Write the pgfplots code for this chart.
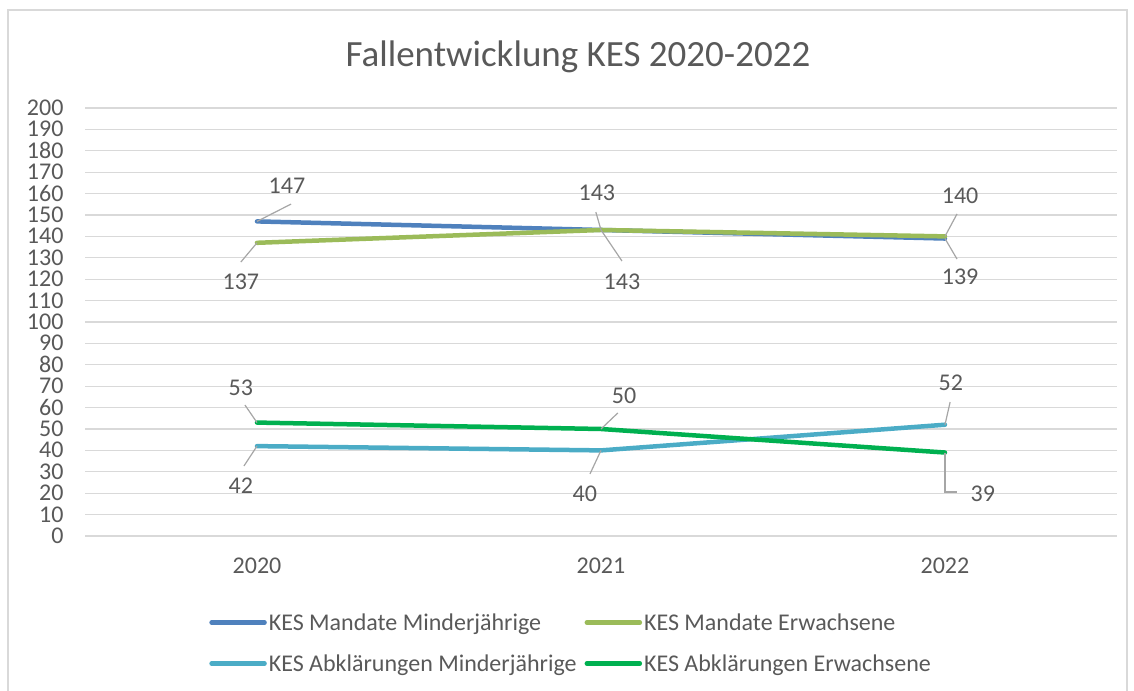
\documentclass[border=0pt]{standalone}
\usepackage{pgfplots}
\pgfplotsset{compat=1.18}
\usepackage{fontspec}
\setmainfont{Carlito}
\definecolor{cblue}{HTML}{4F81BD}
\definecolor{cgreen}{HTML}{9BBB59}
\definecolor{clblue}{HTML}{4BACC6}
\definecolor{cdgreen}{HTML}{00B050}
\definecolor{gridc}{HTML}{D9D9D9}
\definecolor{txt}{HTML}{595959}
\definecolor{leadc}{HTML}{A6A6A6}
\newcommand{\lab}{\fontsize{24bp}{28bp}\selectfont}
\begin{document}
\begin{tikzpicture}[x=1bp,y=1bp]
\path[use as bounding box] (0,0) rectangle (1134,691);
\draw[gridc, line width=1.3bp] (8,0) -- (8,681) -- (1127,681) -- (1127,0);
\node[text=txt, font=\fontsize{37bp}{44bp}\selectfont] at (578,634) {Fallentwicklung KES 2020-2022};
\begin{axis}[
  at={(85bp,155bp)}, anchor=south west,
  scale only axis, width=1032bp, height=428bp,
  xmin=-0.5, xmax=2.5, ymin=0, ymax=200,
  xtick={0,1,2}, xticklabels={2020,2021,2022},
  ytick distance=10,
  ymajorgrids, major grid style={gridc, line width=1.1bp},
  axis line style={draw=none}, tick style={draw=none},
  ticklabel style={font=\lab, text=txt},
  /pgf/number format/assume math mode=true,
  yticklabel style={xshift=-18bp, inner ysep=0pt, text height=15bp, text depth=0pt},
  xticklabel style={yshift=-18bp},
  clip=false,
  legend columns=2,
  legend cell align=left,
  legend style={at={(0.471,-0.171)}, anchor=north, draw=none, fill=none,
    font=\lab, text=txt, row sep=19bp,
    /tikz/every even column/.append style={column sep=6bp}},
  legend image code/.code={\draw[#1] (0bp,0bp) -- (53bp,0bp);},
  every axis plot/.append style={line width=4.5bp, line cap=round, line join=round},
]
\addplot[cblue] coordinates {(0,147) (1,143) (2,139)};
\addlegendentry{KES Mandate Minderjährige}
\addplot[cgreen] coordinates {(0,137) (1,143) (2,140)};
\addlegendentry{KES Mandate Erwachsene}
\addplot[clblue] coordinates {(0,42) (1,40) (2,52)};
\addlegendentry{KES Abklärungen Minderjährige}
\addplot[cdgreen] coordinates {(0,53) (1,50) (2,39)};
\addlegendentry{KES Abklärungen Erwachsene}

\begin{scope}[leadc, line width=1.2bp]
\draw (axis cs:0,147) -- (axis cs:0.099,155.1);
\draw (axis cs:0,137) -- (axis cs:-0.047,128.0);
\draw (axis cs:0.985,151.4) -- (axis cs:1,143) -- (axis cs:1.061,128.5);
\draw (axis cs:2,140) -- (axis cs:2.035,150.5);
\draw (axis cs:2,139) -- (axis cs:2.035,129.4);
\draw (axis cs:0,53) -- (axis cs:-0.035,61.2);
\draw (axis cs:0,42) -- (axis cs:-0.038,32.7);
\draw (axis cs:1,50) -- (axis cs:1.049,57.5);
\draw (axis cs:1,40) -- (axis cs:0.968,29.0);
\draw (axis cs:2,52) -- (axis cs:2.015,62.6);
\draw (axis cs:2,39) -- (axis cs:2,20.6) -- (axis cs:2.035,20.6);
\end{scope}
\begin{scope}[every node/.style={font=\lab, text=txt}]
\node at (axis cs:0.087,163.6) {147};
\node at (axis cs:-0.047,118.7) {137};
\node at (axis cs:0.988,160.3) {143};
\node at (axis cs:1.061,118.7) {143};
\node at (axis cs:2.044,158.9) {140};
\node at (axis cs:2.044,121.0) {139};
\node at (axis cs:-0.047,69.2) {53};
\node at (axis cs:-0.047,23.4) {42};
\node at (axis cs:1.067,65.4) {50};
\node at (axis cs:0.953,19.6) {40};
\node at (axis cs:2.017,71.5) {52};
\node at (axis cs:2.110,19.6) {39};
\end{scope}
\end{axis}
\end{tikzpicture}
\end{document}
